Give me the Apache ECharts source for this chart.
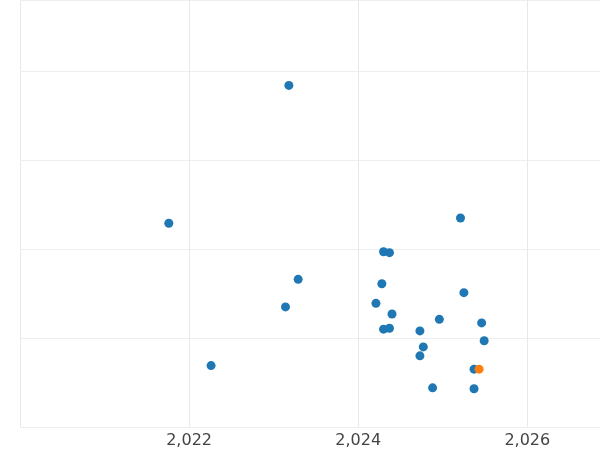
<!DOCTYPE html>
<html>
<head>
<meta charset="utf-8">
<script src="https://cdn.jsdelivr.net/npm/echarts@6/dist/echarts.min.js"></script>
<style>html,body{margin:0;padding:0}#chart{width:600px;height:450px}</style>
</head>
<body>
<div id="chart"></div>
<script>
var xs = [2023.18, 2021.76, 2025.21, 2024.30, 2024.37, 2023.29, 2024.28, 2025.25, 2023.14, 2024.21, 2024.40, 2024.96, 2025.46, 2024.30, 2024.37, 2024.73, 2025.49, 2024.77, 2024.73, 2022.26, 2025.37, 2024.88, 2025.37];
var ys = [3.84, 2.29, 2.35, 1.97, 1.96, 1.66, 1.61, 1.51, 1.35, 1.39, 1.27, 1.21, 1.17, 1.10, 1.11, 1.08, 0.97, 0.90, 0.80, 0.69, 0.65, 0.44, 0.43];
var highlightX = [2025.43];
var highlightY = [0.65];

var pts = xs.map(function (x, i) { return [x, ys[i]]; });
var hpts = highlightX.map(function (x, i) { return [x, highlightY[i]]; });

var myChart = echarts.init(document.getElementById('chart'));
var option = {
  animation: false,
  grid: { left: 20, right: 0, top: 0, bottom: 23 },
  xAxis: {
    type: 'value', min: 2020, max: 2026.86, interval: 2,
    axisLine: { show: false }, axisTick: { show: false },
    splitLine: { lineStyle: { color: '#e8e8e8' } },
    axisLabel: { showMinLabel: false, showMaxLabel: false, color: '#444', fontSize: 16, margin: 6,
      fontFamily: 'DejaVu Sans' }
  },
  yAxis: {
    type: 'value', min: 0, max: 4.8, interval: 1,
    axisLine: { show: false }, axisTick: { show: false },
    axisLabel: { show: false },
    splitLine: { lineStyle: { color: '#eeeeee' } }
  },
  series: [
    { type: 'scatter', data: pts, symbolSize: 9, itemStyle: { color: '#1f77b4', opacity: 1 } },
    { type: 'scatter', data: hpts, symbolSize: 9, itemStyle: { color: '#ff7f0e', opacity: 1 } }
  ]
};
myChart.setOption(option);
</script>
</body>
</html>
